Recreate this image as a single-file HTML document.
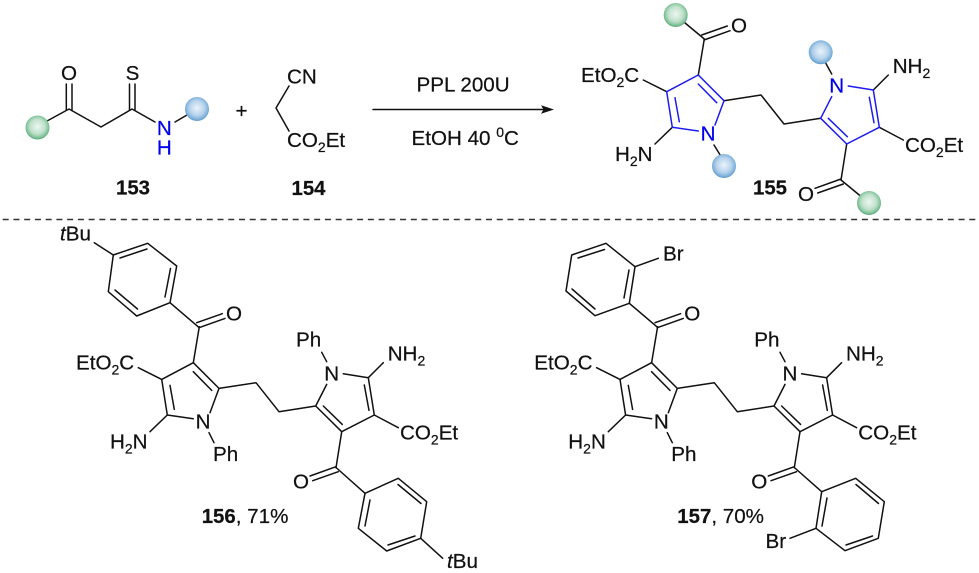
<!DOCTYPE html>
<html><head><meta charset="utf-8"><style>
html,body{margin:0;padding:0;background:#fff;width:979px;height:573px;overflow:hidden}
svg{display:block}
text{font-family:"Liberation Sans",sans-serif;font-size:20.6px;fill:#111;stroke:#111;stroke-width:.22}
.b{font-weight:bold;font-size:20.4px}
text.bl{fill:#0000ee;stroke:#0000ee}
line,polyline{stroke:#111;stroke-width:1.5;fill:none;stroke-linecap:round;stroke-linejoin:round}
polygon.a{fill:none;stroke:#111;stroke-width:1.5;stroke-linejoin:round}
.r line,.r polyline{stroke:#1c1cf0}
</style></head><body>
<svg width="979" height="573" viewBox="0 0 979 573" xmlns="http://www.w3.org/2000/svg">
<defs>
<radialGradient id="g" cx=".5" cy=".46" r=".52"><stop offset="0" stop-color="#eef7f1"/><stop offset=".6" stop-color="#bfe1cb"/><stop offset=".88" stop-color="#84c49c"/><stop offset="1" stop-color="#62ad7e"/></radialGradient>
<radialGradient id="u" cx=".5" cy=".46" r=".52"><stop offset="0" stop-color="#ecf3fa"/><stop offset=".6" stop-color="#b6d3ec"/><stop offset=".88" stop-color="#83b4dc"/><stop offset="1" stop-color="#639fd0"/></radialGradient>
</defs>

<!-- 153 -->
<polyline points="47,121 69,109 101,127 132,109 155,122"/>
<line x1="66.3" y1="84" x2="66.3" y2="110"/><line x1="72" y1="84" x2="72" y2="110"/>
<line x1="129.5" y1="84" x2="129.5" y2="110"/><line x1="135" y1="84" x2="135" y2="110"/>
<line x1="175" y1="122" x2="187" y2="115"/>
<circle cx="37.5" cy="127.5" r="12" fill="url(#g)"/>
<circle cx="197" cy="109" r="12" fill="url(#u)"/>
<text x="69" y="80" text-anchor="middle">O</text>
<text x="132.5" y="80" text-anchor="middle">S</text>
<text x="164.3" y="135" text-anchor="middle" class="bl">N</text>
<text x="164.3" y="154.5" text-anchor="middle" class="bl">H</text>
<text x="133" y="194.5" text-anchor="middle" class="b">153</text>
<text x="241.5" y="118" text-anchor="middle">+</text>

<!-- 154 -->
<polyline points="289,86 276,108 289,131"/>
<text x="287" y="83.3">CN</text>
<text x="287" y="147">CO<tspan font-size="14" dy="5">2</tspan><tspan dy="-5">Et</tspan></text>
<text x="308.5" y="195" text-anchor="middle" class="b">154</text>

<!-- arrow -->
<line x1="373" y1="109.5" x2="545" y2="109.5"/>
<polygon points="554,109.5 541,105.3 543.5,109.5 541,113.7" fill="#111"/>
<text x="416.5" y="91.7">PPL 200U</text>
<text x="411.5" y="145">EtOH 40 <tspan font-size="14" dy="-8">0</tspan><tspan dy="8">C</tspan></text>

<!-- dashes -->
<line x1="2.7" y1="219.5" x2="976" y2="219.5" style="stroke:#333;stroke-width:1.5;stroke-linecap:butt;stroke-dasharray:6 4.74"/>

<!-- 155 -->
<g>
<line x1="704.3" y1="39" x2="675.5" y2="15"/>
<line x1="841" y1="180" x2="869" y2="203"/>
<line x1="698.3" y1="75" x2="704.3" y2="39"/>
<line x1="704" y1="40" x2="730" y2="30.7"/><line x1="701.7" y1="35" x2="727.3" y2="26"/>
<line x1="846.7" y1="144" x2="841" y2="180"/>
<line x1="841" y1="179" x2="815" y2="188.3"/><line x1="843.3" y1="184" x2="817.7" y2="193"/>
<line x1="666.7" y1="91.7" x2="643.3" y2="80"/>
<line x1="672.3" y1="127.3" x2="655" y2="144"/>
<polyline points="724,100.7 761,95 784,124 820.7,118.3"/>
<line x1="873.3" y1="90" x2="888.3" y2="75"/>
<line x1="879.3" y1="127.3" x2="903.3" y2="140"/>
<line x1="714" y1="145" x2="722" y2="158"/>
<line x1="831.7" y1="74" x2="824" y2="60"/>
<g class="r">
<polyline points="715,125 724,100.7 698.3,75 666.7,91.7 672.3,127.3 698.3,131"/>
<line x1="675" y1="97.7" x2="679.3" y2="121.7"/><line x1="698.3" y1="84" x2="716.7" y2="102.7"/>
<polyline points="831.7,96.7 820.7,118.3 846.7,144 879.3,127.3 873.3,90 848.3,86"/>
<line x1="869.3" y1="97.3" x2="874" y2="122.7"/><line x1="828.3" y1="118.3" x2="847.3" y2="136.7"/>
</g>
<circle cx="675.7" cy="15" r="12" fill="url(#g)"/>
<circle cx="869" cy="203" r="12" fill="url(#g)"/>
<circle cx="724" cy="166" r="12" fill="url(#u)"/>
<circle cx="820.7" cy="52.3" r="12" fill="url(#u)"/>
<text x="739" y="32.7" text-anchor="middle">O</text>
<text x="806" y="201" text-anchor="middle">O</text>
<text x="581" y="82">EtO<tspan font-size="14" dy="5">2</tspan><tspan dy="-5">C</tspan></text>
<text x="615" y="161">H<tspan font-size="14" dy="5">2</tspan><tspan dy="-5">N</tspan></text>
<text x="708" y="140.7" text-anchor="middle" class="bl">N</text>
<text x="836.7" y="92.7" text-anchor="middle" class="bl">N</text>
<text x="892.7" y="73">NH<tspan font-size="14" dy="5">2</tspan></text>
<text x="905" y="152">CO<tspan font-size="14" dy="5">2</tspan><tspan dy="-5">Et</tspan></text>
<text x="770" y="194.5" text-anchor="middle" class="b">155</text>
</g>

<!-- 156 core -->
<g transform="translate(-505 287.7)">
<line x1="698.3" y1="75" x2="704.3" y2="39"/>
<line x1="704" y1="40" x2="730" y2="30.7"/><line x1="701.7" y1="35" x2="727.3" y2="26"/>
<line x1="846.7" y1="144" x2="841" y2="180"/>
<line x1="841" y1="179" x2="815" y2="188.3"/><line x1="843.3" y1="184" x2="817.7" y2="193"/>
<line x1="666.7" y1="91.7" x2="643.3" y2="80"/>
<line x1="672.3" y1="127.3" x2="655" y2="144"/>
<polyline points="724,100.7 761,95 784,124 820.7,118.3"/>
<line x1="873.3" y1="90" x2="888.3" y2="75"/>
<line x1="879.3" y1="127.3" x2="903.3" y2="140"/>
<line x1="714" y1="145" x2="719" y2="155"/>
<line x1="831.7" y1="74" x2="826.7" y2="64.6"/>
<polyline points="715,125 724,100.7 698.3,75 666.7,91.7 672.3,127.3 698.3,131"/>
<line x1="675" y1="97.7" x2="679.3" y2="121.7"/><line x1="698.3" y1="84" x2="716.7" y2="102.7"/>
<polyline points="831.7,96.7 820.7,118.3 846.7,144 879.3,127.3 873.3,90 848.3,86"/>
<line x1="869.3" y1="97.3" x2="874" y2="122.7"/><line x1="828.3" y1="118.3" x2="847.3" y2="136.7"/>
<text x="739" y="32.7" text-anchor="middle">O</text>
<text x="806" y="201" text-anchor="middle">O</text>
<text x="581" y="82">EtO<tspan font-size="14" dy="5">2</tspan><tspan dy="-5">C</tspan></text>
<text x="615" y="161">H<tspan font-size="14" dy="5">2</tspan><tspan dy="-5">N</tspan></text>
<text x="708" y="140.7" text-anchor="middle">N</text>
<text x="836.7" y="92.7" text-anchor="middle">N</text>
<text x="892.7" y="73">NH<tspan font-size="14" dy="5">2</tspan></text>
<text x="905" y="152">CO<tspan font-size="14" dy="5">2</tspan><tspan dy="-5">Et</tspan></text>
<text x="718" y="173.5">Ph</text>
<text x="801" y="59">Ph</text>
</g>
<!-- 156 aryl -->
<polygon class="a" points="113.3,255 147.7,243.3 176.7,266 170,302.7 136.7,316 108.3,291.7"/>
<line x1="120" y1="258" x2="147" y2="249"/><line x1="170.5" y1="268.5" x2="165" y2="297"/><line x1="137.5" y1="309" x2="115" y2="290"/>
<line x1="170" y1="302.7" x2="198.8" y2="327.3"/>
<line x1="94.3" y1="242.7" x2="113.3" y2="255"/>
<polygon class="a" points="365,493.3 398.3,478.3 426.7,501.7 420.7,538.3 386.7,551 358.3,528.3"/>
<line x1="370" y1="500" x2="365" y2="526"/><line x1="398" y1="484.5" x2="421" y2="503.5"/><line x1="415" y1="536" x2="388" y2="545"/>
<line x1="336" y1="467.5" x2="365" y2="493.3"/>
<line x1="420.7" y1="538.3" x2="442.7" y2="558.3"/>
<text x="60" y="240.7"><tspan font-style="italic">t</tspan>Bu</text>
<text x="447" y="568"><tspan font-style="italic">t</tspan>Bu</text>
<text x="201.7" y="523"><tspan class="b">156</tspan>, 71%</text>

<!-- 157 core -->
<g transform="translate(-46.7 287.7)">
<line x1="698.3" y1="75" x2="704.3" y2="39"/>
<line x1="704" y1="40" x2="730" y2="30.7"/><line x1="701.7" y1="35" x2="727.3" y2="26"/>
<line x1="846.7" y1="144" x2="841" y2="180"/>
<line x1="841" y1="179" x2="815" y2="188.3"/><line x1="843.3" y1="184" x2="817.7" y2="193"/>
<line x1="666.7" y1="91.7" x2="643.3" y2="80"/>
<line x1="672.3" y1="127.3" x2="655" y2="144"/>
<polyline points="724,100.7 761,95 784,124 820.7,118.3"/>
<line x1="873.3" y1="90" x2="888.3" y2="75"/>
<line x1="879.3" y1="127.3" x2="903.3" y2="140"/>
<line x1="714" y1="145" x2="719" y2="155"/>
<line x1="831.7" y1="74" x2="826.7" y2="64.6"/>
<polyline points="715,125 724,100.7 698.3,75 666.7,91.7 672.3,127.3 698.3,131"/>
<line x1="675" y1="97.7" x2="679.3" y2="121.7"/><line x1="698.3" y1="84" x2="716.7" y2="102.7"/>
<polyline points="831.7,96.7 820.7,118.3 846.7,144 879.3,127.3 873.3,90 848.3,86"/>
<line x1="869.3" y1="97.3" x2="874" y2="122.7"/><line x1="828.3" y1="118.3" x2="847.3" y2="136.7"/>
<text x="739" y="32.7" text-anchor="middle">O</text>
<text x="806" y="201" text-anchor="middle">O</text>
<text x="581" y="82">EtO<tspan font-size="14" dy="5">2</tspan><tspan dy="-5">C</tspan></text>
<text x="615" y="161">H<tspan font-size="14" dy="5">2</tspan><tspan dy="-5">N</tspan></text>
<text x="708" y="140.7" text-anchor="middle">N</text>
<text x="836.7" y="92.7" text-anchor="middle">N</text>
<text x="892.7" y="73">NH<tspan font-size="14" dy="5">2</tspan></text>
<text x="905" y="152">CO<tspan font-size="14" dy="5">2</tspan><tspan dy="-5">Et</tspan></text>
<text x="718" y="173.5">Ph</text>
<text x="801" y="59">Ph</text>
</g>
<!-- 157 aryl -->
<polygon class="a" points="629.3,303.3 635,266.7 606,243.3 571.7,255 566,291 595,315.7"/>
<line x1="624" y1="298" x2="629" y2="270"/><line x1="604.5" y1="249.5" x2="578" y2="258"/><line x1="572" y1="289" x2="595" y2="309"/>
<line x1="629.3" y1="303.3" x2="657.5" y2="327.3"/>
<line x1="635" y1="266.7" x2="658.3" y2="258.3"/>
<polygon class="a" points="821.7,491.7 855.7,478.3 884.3,501.7 878.3,538.3 845,550.7 816,528.3"/>
<line x1="827" y1="498" x2="822" y2="526"/><line x1="856" y1="484.5" x2="878.5" y2="503.5"/><line x1="872.5" y1="536" x2="846" y2="545"/>
<line x1="794.3" y1="467.5" x2="821.7" y2="491.7"/>
<line x1="816" y1="528.3" x2="790" y2="538.3"/>
<text x="663" y="260.7">Br</text>
<text x="765.5" y="548">Br</text>
<text x="677.3" y="523"><tspan class="b">157</tspan>, 70%</text>
</svg>
</body></html>
